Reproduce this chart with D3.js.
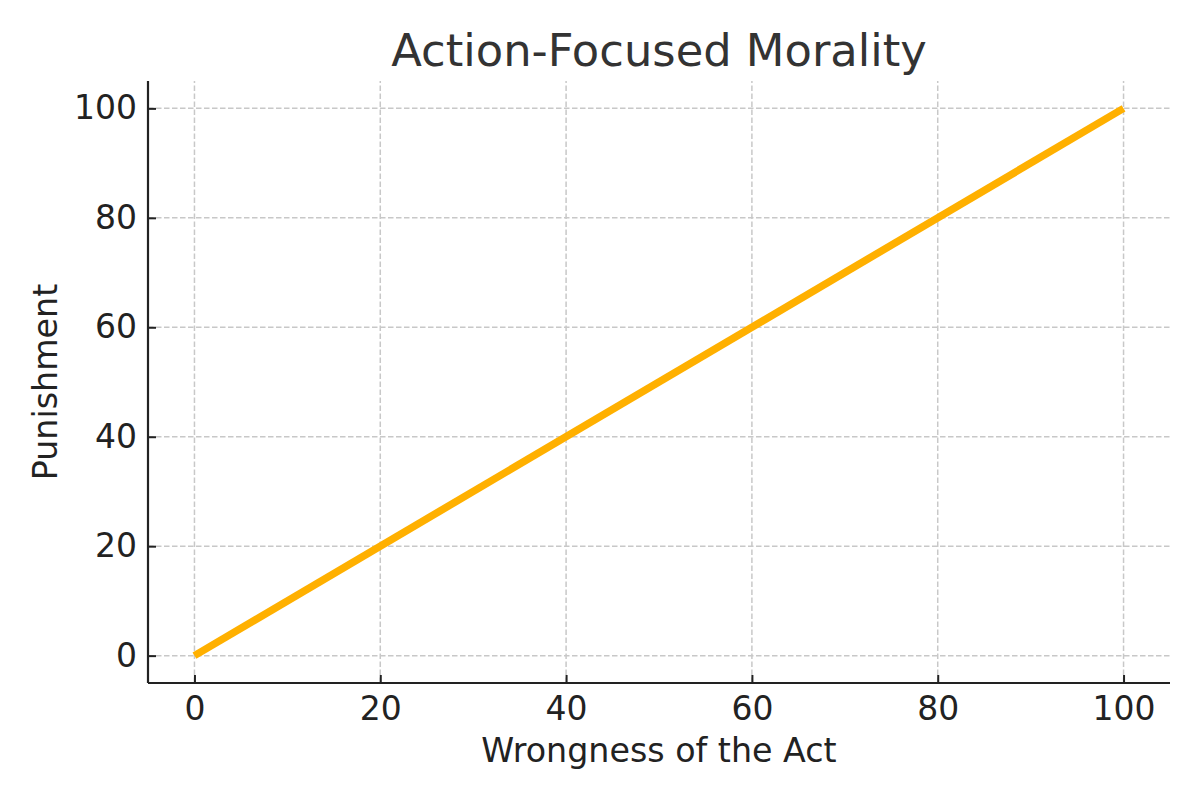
<!DOCTYPE html>
<html>
<head>
<meta charset="utf-8">
<script src="https://cdn.jsdelivr.net/npm/d3@7"></script>
<style>
  html, body { margin: 0; padding: 0; background: #fff; }
  svg { display: block; font-family: "DejaVu Sans", sans-serif; }
</style>
</head>
<body>
<svg id="chart" width="1200" height="800"></svg>
<script>
// Data
const wrongness = [0, 100];
const punishment = [0, 100];
const xTicks = [0, 20, 40, 60, 80, 100];
const yTicks = [0, 20, 40, 60, 80, 100];
const titleText = "Action-Focused Morality";
const xLabel = "Wrongness of the Act";
const yLabel = "Punishment";

const svg = d3.select("#chart");
const margin = { left: 148, right: 30, top: 81, bottom: 117 };
const W = 1200, H = 800;
const x = d3.scaleLinear().domain([-5, 105]).range([margin.left, W - margin.right]);
const y = d3.scaleLinear().domain([-5, 105]).range([H - margin.bottom, margin.top]);

// Grid
const grid = svg.append("g");
grid.selectAll("line.vx").data(xTicks).join("line")
  .attr("x1", d => x(d)).attr("x2", d => x(d))
  .attr("y1", y.range()[0]).attr("y2", y.range()[1])
  .attr("stroke", "#c8c8c8").attr("stroke-width", 1.5)
  .attr("stroke-dasharray", "5.5,2.5");
grid.selectAll("line.hy").data(yTicks).join("line")
  .attr("x1", x.range()[0]).attr("x2", x.range()[1])
  .attr("y1", d => y(d)).attr("y2", d => y(d))
  .attr("stroke", "#c8c8c8").attr("stroke-width", 1.5)
  .attr("stroke-dasharray", "5.5,2.5");

// Line
const pts = wrongness.map((w, i) => [w, punishment[i]]);
svg.append("path")
  .datum(pts)
  .attr("fill", "none")
  .attr("stroke", "#ffb000")
  .attr("stroke-width", 7.5)
  .attr("stroke-linecap", "butt")
  .attr("d", d3.line().x(d => x(d[0])).y(d => y(d[1])));

// Axes
const xAxis = d3.axisBottom(x).tickValues(xTicks).tickSize(-8).tickPadding(14).tickFormat(d3.format("d"));
const yAxis = d3.axisLeft(y).tickValues(yTicks).tickSize(-8).tickPadding(11).tickFormat(d3.format("d"));

const gx = svg.append("g").attr("transform", `translate(0,${y.range()[0]})`).call(xAxis);
const gy = svg.append("g").attr("transform", `translate(${x.range()[0]},0)`).call(yAxis);

[gx, gy].forEach(g => {
  g.select(".domain").attr("stroke", "#222").attr("stroke-width", 2.2);
  g.selectAll(".tick line").attr("stroke", "#222").attr("stroke-width", 2);
  g.selectAll(".tick text").attr("fill", "#222")
    .style("font-size", "33px").style("font-family", "DejaVu Sans, sans-serif");
});
gx.select(".domain").attr("d", `M${x.range()[0]},0H${x.range()[1]}`);
gy.select(".domain").attr("d", `M0,${y.range()[0]}V${y.range()[1]}`);

// Title
svg.append("text")
  .attr("x", (x.range()[0] + x.range()[1]) / 2)
  .attr("y", 66)
  .attr("text-anchor", "middle")
  .attr("fill", "#333")
  .style("font-size", "44.8px")
  .text(titleText);

// X label
svg.append("text")
  .attr("x", (x.range()[0] + x.range()[1]) / 2)
  .attr("y", 762)
  .attr("text-anchor", "middle")
  .attr("fill", "#222")
  .style("font-size", "33.3px")
  .text(xLabel);

// Y label
svg.append("text")
  .attr("transform", `translate(57,${(y.range()[0] + y.range()[1]) / 2}) rotate(-90)`)
  .attr("text-anchor", "middle")
  .attr("fill", "#222")
  .style("font-size", "33.3px")
  .text(yLabel);
</script>
</body>
</html>
